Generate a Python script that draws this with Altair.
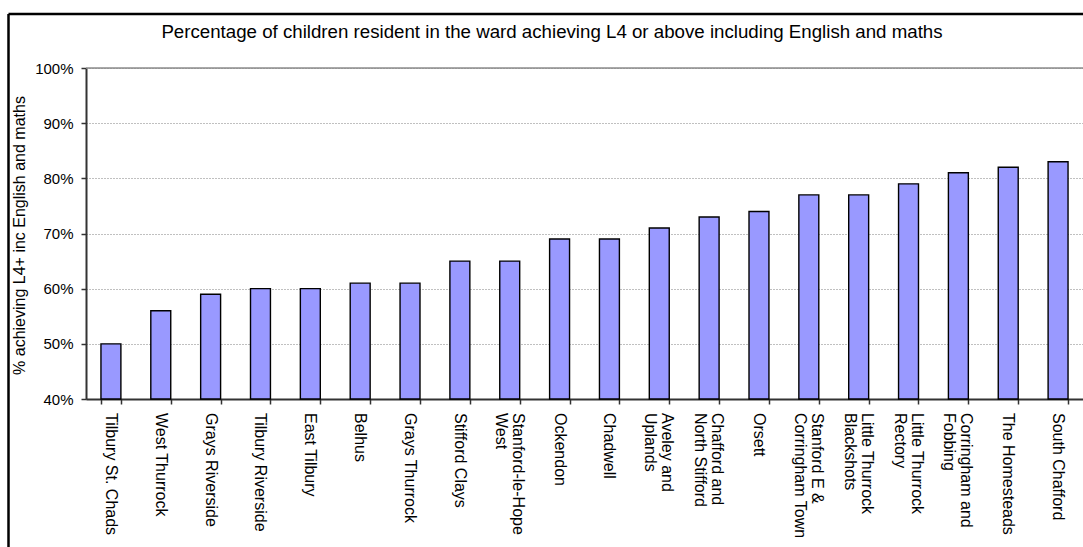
import altair as alt
import pandas as pd

wards = [
    "Tilbury St. Chads", "West Thurrock", "Grays Riverside", "Tilbury Riverside",
    "East Tilbury", "Belhus", "Grays Thurrock", "Stifford Clays",
    "Stanford-le-Hope\nWest", "Ockendon", "Chadwell", "Aveley and\nUplands",
    "Chafford and\nNorth Stifford", "Orsett", "Stanford E &\nCorringham Town",
    "Little Thurrock\nBlackshots", "Little Thurrock\nRectory", "Corringham and\nFobbing",
    "The Homesteads", "South Chafford",
]
pct = [0.50, 0.56, 0.59, 0.60, 0.60, 0.61, 0.61, 0.65, 0.65, 0.69,
       0.69, 0.71, 0.73, 0.74, 0.77, 0.77, 0.79, 0.81, 0.82, 0.83]
y_ticks = [0.4, 0.5, 0.6, 0.7, 0.8, 0.9, 1.0]
chart_title = "Percentage of children resident in the ward achieving L4 or above including English and maths"

df = pd.DataFrame({"ward": wards, "pct": pct})

FONT = "Liberation Sans"
W, H = 997, 331
PAD_INNER = 0.6
HALF_BAND = W / len(wards) * (1 - PAD_INNER) / 2  # xOffset counts from the band's left edge

x_scale = alt.Scale(paddingInner=PAD_INNER, paddingOuter=PAD_INNER / 2)
x_enc = alt.X(
    "ward:N", sort=wards, title=None, scale=x_scale,
    axis=alt.Axis(
        labels=False,
        tickBand="extent", tickSize=5, tickColor="#333333", tickWidth=1.5,
        domainColor="#333333", domainWidth=2, grid=False,
    ),
)
y_enc = alt.Y(
    "pct:Q",
    scale=alt.Scale(domain=[0.4, 1.0], zero=False, nice=False),
    axis=alt.Axis(
        values=y_ticks, format=".0%",
        labelFontSize=15, labelFont=FONT, labelColor="#000000", labelPadding=8,
        tickSize=5, tickColor="#333333", tickWidth=1.5,
        domainColor="#333333", domainWidth=2,
        grid=True, gridDash=[1, 2], gridColor="#808080", gridWidth=1,
        title="% achieving L4+ inc English and maths",
        titleFont=FONT, titleFontSize=16, titleFontWeight="normal", titleColor="#000000",
        titleX=-59, titleY=167, titleAngle=-90, titleAlign="center", titleBaseline="bottom",
    ),
)

bars = alt.Chart(df).mark_bar(
    color="#9999FF", stroke="#000000", strokeWidth=1.4
).encode(x=x_enc, y=y_enc, y2=alt.datum(0.4))

# category labels: rotated; two-line blocks moved so the block is centred on its bar
labels = alt.Chart(df).transform_calculate(
    shift=f"{HALF_BAND:.2f} + (indexof(datum.ward, '\\n') >= 0 ? 8 : 0)"
).mark_text(
    font=FONT, fontSize=16, color="#000000", angle=90, align="left",
    baseline="middle", lineBreak="\n", lineHeight=17,
).encode(
    x=alt.X("ward:N", sort=wards),
    xOffset=alt.XOffset("shift:Q", scale=None),
    y=alt.value(H + 14),
    text="ward:N",
)

top_line = alt.Chart(pd.DataFrame({"k": [0]})).mark_rule(
    color="#8c8c8c", strokeWidth=1.5
).encode(y=alt.datum(1.0))

frame_df = pd.DataFrame({"k": [0]})
left_border = alt.Chart(frame_df).mark_rule(color="#000000", strokeWidth=2.5).encode(
    x=alt.value(-77.5), y=alt.value(-54), y2=alt.value(H + 200)
)
top_border = alt.Chart(frame_df).mark_rule(color="#000000", strokeWidth=2.5).encode(
    x=alt.value(-77.5), x2=alt.value(W + 50), y=alt.value(-54)
)
title_text = alt.Chart(pd.DataFrame({"t": [chart_title]})).mark_text(
    font=FONT, fontSize=18.7, color="#000000", align="center", baseline="alphabetic"
).encode(text="t:N", x=alt.value(466), y=alt.value(-30))

chart = alt.layer(bars, labels, top_line, left_border, top_border, title_text).properties(
    width=W, height=H,
    autosize=alt.AutoSizeParams(type="none"),
    padding={"left": 86, "top": 68, "right": 0, "bottom": 148},
).configure_view(stroke="transparent").configure(background="#ffffff")

chart.save("out.html", embed_options={"renderer": "svg", "actions": False})
